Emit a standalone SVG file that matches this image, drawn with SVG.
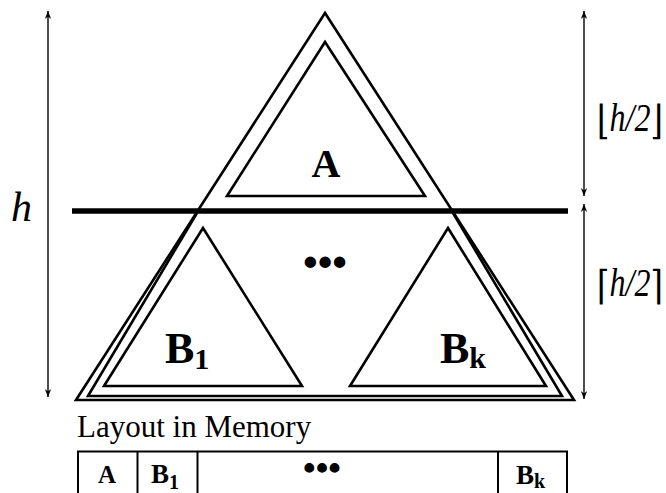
<svg xmlns="http://www.w3.org/2000/svg" width="666" height="493" viewBox="0 0 666 493">
<defs>
<marker id="ah" viewBox="0 0 10 10" refX="10" refY="5" markerWidth="8" markerHeight="8" markerUnits="userSpaceOnUse" orient="auto-start-reverse">
<path d="M0,1 L10,5 L0,9 L3,5 Z" fill="#000"/>
</marker>
</defs>
<style>
.tri{fill:none;stroke:#000;stroke-width:2.6;stroke-linejoin:miter}
.dim{stroke:#000;stroke-width:1.4;fill:none}
.lbl{font-family:"Liberation Serif","DejaVu Serif",serif;font-weight:bold;fill:#000}
.it{font-family:"Liberation Serif","DejaVu Serif",serif;font-style:italic;fill:#000}
.rm{font-family:"Liberation Serif","DejaVu Serif",serif;fill:#000}
.br{font-family:"DejaVu Serif",serif;font-style:normal}
.cell{fill:none;stroke:#000;stroke-width:2}
</style>
<rect width="666" height="493" fill="#fff"/>
<g id="connectors">
<line class="dim" x1="48" y1="397" x2="48" y2="11" marker-start="url(#ah)" marker-end="url(#ah)"/>
<line class="dim" x1="584" y1="196" x2="584" y2="11" marker-start="url(#ah)" marker-end="url(#ah)"/>
<line class="dim" x1="584" y1="399" x2="584" y2="204" marker-start="url(#ah)" marker-end="url(#ah)"/>
</g>
<g id="outer-tree">
<polygon class="tri" points="325,13 76,400 574,400"/>
<polyline class="tri" points="197,213 88,396 562,396 453,213"/>
</g>
<g id="split-line">
<line x1="72" y1="211" x2="568" y2="211" stroke="#000" stroke-width="5.5"/>
</g>
<g id="node-A">
<polygon class="tri" points="325,42 227,196 425,196"/>
<text class="lbl" x="326" y="177" font-size="40" text-anchor="middle">A</text>
</g>
<g id="node-B1">
<polygon class="tri" points="203,228 104,386 302,386"/>
<text class="lbl" x="165" y="363" font-size="44">B<tspan font-size="30" dy="6">1</tspan></text>
</g>
<g id="node-dots">
<text class="lbl" x="325" y="276" font-size="42" text-anchor="middle">•••</text>
</g>
<g id="node-Bk">
<polygon class="tri" points="448,228 350,386 546,386"/>
<text class="lbl" x="440" y="363" font-size="44">B<tspan font-size="30" dy="5">k</tspan></text>
</g>
<g id="labels">
<text class="it" x="11" y="221" font-size="42">h</text>
<text class="it" transform="translate(597,131) scale(0.8,1)" font-size="40"><tspan class="br" dy="3">⌊</tspan><tspan dy="-3">h/2</tspan><tspan class="br" dy="3">⌋</tspan></text>
<text class="it" transform="translate(597,296) scale(0.8,1)" font-size="40"><tspan class="br" dy="3">⌈</tspan><tspan dy="-3">h/2</tspan><tspan class="br" dy="3">⌉</tspan></text>
<text class="rm" x="77" y="437" font-size="31">Layout in Memory</text>
</g>
<g id="memory-layout">
<path class="cell" d="M78,494 V451.5 H567 V494"/>
<line class="cell" x1="137.5" y1="452" x2="137.5" y2="494"/>
<line class="cell" x1="197.5" y1="452" x2="197.5" y2="494"/>
<line class="cell" x1="498" y1="452" x2="498" y2="494"/>
<text class="lbl" x="107" y="483" font-size="25" text-anchor="middle">A</text>
<text class="lbl" x="151" y="483" font-size="27">B<tspan font-size="20" dy="6">1</tspan></text>
<text class="lbl" x="322" y="480" font-size="36" text-anchor="middle">•••</text>
<text class="lbl" x="516" y="484" font-size="27">B<tspan font-size="20" dy="4">k</tspan></text>
</g>
</svg>
